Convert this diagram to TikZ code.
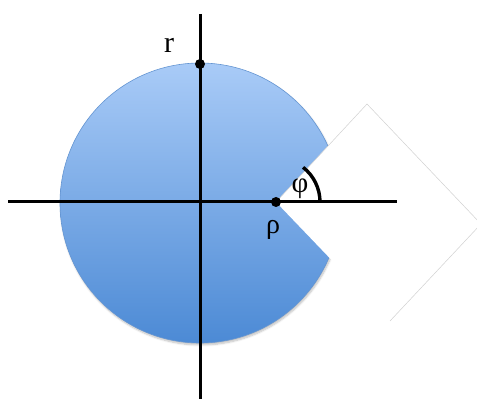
\documentclass[tikz,border=0pt]{standalone}
\usepackage{fontspec}
\setmainfont{Liberation Serif}
\usetikzlibrary{shadows.blur}
\definecolor{topblue}{HTML}{A9CBF7}
\definecolor{botblue}{HTML}{4C8AD5}
\definecolor{rimblue}{HTML}{6495D2}
\begin{document}
\begin{tikzpicture}[x=1pt,y=-1pt,
  axis/.style={line width=3pt, line cap=butt},
  dot/.style={circle, fill=black, inner sep=0pt, minimum size=10pt},
  lbl/.style={inner sep=0pt}]
\useasboundingbox (0,0) rectangle (477,401);
\coordinate (O) at (200,203);
\shade[top color=topblue, bottom color=botblue, draw=rimblue, line width=0.6pt,
  blur shadow={shadow xshift=1pt, shadow yshift=-2pt, shadow blur steps=6, shadow opacity=25}]
  (O) circle[radius=140];
\coordinate (rho) at (276,202);
\coordinate (pa) at (367,104);
\coordinate (pb) at (481,224);
\coordinate (pc) at (390,321);
\fill[white] (rho) -- (pa) -- (pb) -- (pc) -- cycle;
\draw[black!18, line width=0.5pt] (rho) -- (pa) -- (pb) -- (pc);
\coordinate (xl) at (8,202);
\coordinate (xr) at (397,202);
\coordinate (yt) at (200,14);
\coordinate (yb) at (200,399);
\draw[axis] (xl) -- (xr);
\draw[axis] (yt) -- (yb);
\draw[axis, line width=3.4pt] (rho) ++(44,0) arc[start angle=0, end angle=-52, radius=44];
\node[dot] (rdot) at (200,64) {};
\node[dot] (rhodot) at (rho) {};
\node[lbl, font=\fontsize{30}{30}\selectfont] (rlbl) at (169,45) {r};
\node[lbl, font=\fontsize{28}{28}\selectfont] (rholbl) at (273,230) {ρ};
\node[lbl, font=\fontsize{29}{29}\selectfont] (philbl) at (300,189) {φ};
\end{tikzpicture}
\end{document}
